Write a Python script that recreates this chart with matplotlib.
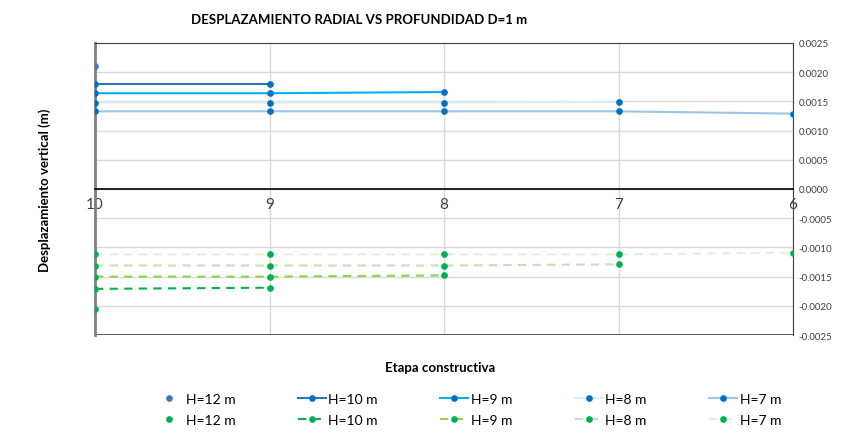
import numpy as np
from matplotlib import pyplot as plt

plt.rcParams['font.family'] = ['Lato', 'DejaVu Sans']

etapas = [10, 9, 8, 7, 6]
labels = ['H=12 m', 'H=10 m', 'H=9 m', 'H=8 m', 'H=7 m']

# desplazamiento positivo (azul)
sup_12 = [0.00210]
sup_10 = [0.00179, 0.00179]
sup_9 = [0.00164, 0.00164, 0.00166]
sup_8 = [0.00148, 0.00148, 0.00148, 0.00149]
sup_7 = [0.00133, 0.00133, 0.00133, 0.00133, 0.00129]

# desplazamiento negativo (verde)
inf_12 = [-0.00206]
inf_10 = [-0.00171, -0.00169]
inf_9 = [-0.00150, -0.00150, -0.00148]
inf_8 = [-0.00131, -0.00131, -0.00131, -0.00129]
inf_7 = [-0.00112, -0.00112, -0.00112, -0.00112, -0.00109]

sup = [sup_12, sup_10, sup_9, sup_8, sup_7]
inf = [inf_12, inf_10, inf_9, inf_8, inf_7]
col_sup = ['#4472C4', '#2E75B6', '#00B0F0', '#DEEBF7', '#9DC3E6']
col_inf = ['#00B050', '#00B050', '#92D050', '#C5E0B4', '#E2F0D9']

fig = plt.figure(figsize=(8.59, 4.39), dpi=100)
ax = fig.add_axes([0.1106, 0.2346, 0.8126, 0.6652])

handles = []
for i in range(5):
    xs = etapas[:len(sup[i])]
    if i == 0:
        hb, = ax.plot(xs, sup[i], 'o', color='#4472C4', ms=3.8, zorder=5, label=labels[i])
    else:
        hb, = ax.plot(xs, sup[i], '-o', color=col_sup[i], mfc='#0070C0', mec='#0070C0',
                      ms=3.8, lw=1.5, zorder=4, label=labels[i])
    xs = etapas[:len(inf[i])]
    if i == 0:
        hg, = ax.plot(xs, inf[i], 'o', color='#00B050', ms=3.8, zorder=5, label=labels[i])
    else:
        hg, = ax.plot(xs, inf[i], '--o', color=col_inf[i], mfc='#00B050', mec='#00B050',
                      ms=3.8, lw=1.5, dashes=(4, 3), zorder=4, label=labels[i])
    handles += [hb, hg]

ax.set_xlim(10, 6)
ax.set_ylim(-0.0025, 0.0025)
ax.set_xticks(etapas)
ax.set_yticks(np.arange(-0.0025, 0.00251, 0.0005))
ax.yaxis.tick_right()
ax.yaxis.set_major_formatter(plt.FormatStrFormatter('%.4f'))
ax.tick_params(axis='y', labelsize=7, length=0, pad=4, labelcolor='#404040')
ax.tick_params(axis='x', labelsize=11, length=0, pad=6, labelcolor='#404040')
ax.grid(True, color='#D9D9D9', lw=1)
ax.set_axisbelow(True)

ax.spines['bottom'].set_position(('data', 0))
ax.spines['bottom'].set_color('black')
ax.spines['bottom'].set_linewidth(1.2)
ax.spines['left'].set_color('#7F7F7F')
ax.spines['left'].set_linewidth(2)
ax.spines['right'].set_color('#404040')
ax.spines['top'].set_color('#404040')
ax.axhline(-0.0025, color='#404040', lw=1.2, zorder=1)

fig.text(0.418, 0.955, 'DESPLAZAMIENTO RADIAL VS PROFUNDIDAD D=1 m', ha='center', va='center',
         fontsize=9.5, fontweight='bold')
fig.text(0.052, 0.567, 'Desplazamiento vertical (m)', rotation=90, ha='center', va='center',
         fontsize=9.5, fontweight='bold')
fig.text(0.512, 0.162, 'Etapa constructiva', ha='center', va='center',
         fontsize=9.5, fontweight='bold')

fig.legend(handles=handles, loc='center', bbox_to_anchor=(0.545, 0.065), ncol=5,
           frameon=False, fontsize=10, columnspacing=4.5, handlelength=2,
           handletextpad=0.2, labelspacing=0.7)

plt.savefig('out.png', dpi=100)
